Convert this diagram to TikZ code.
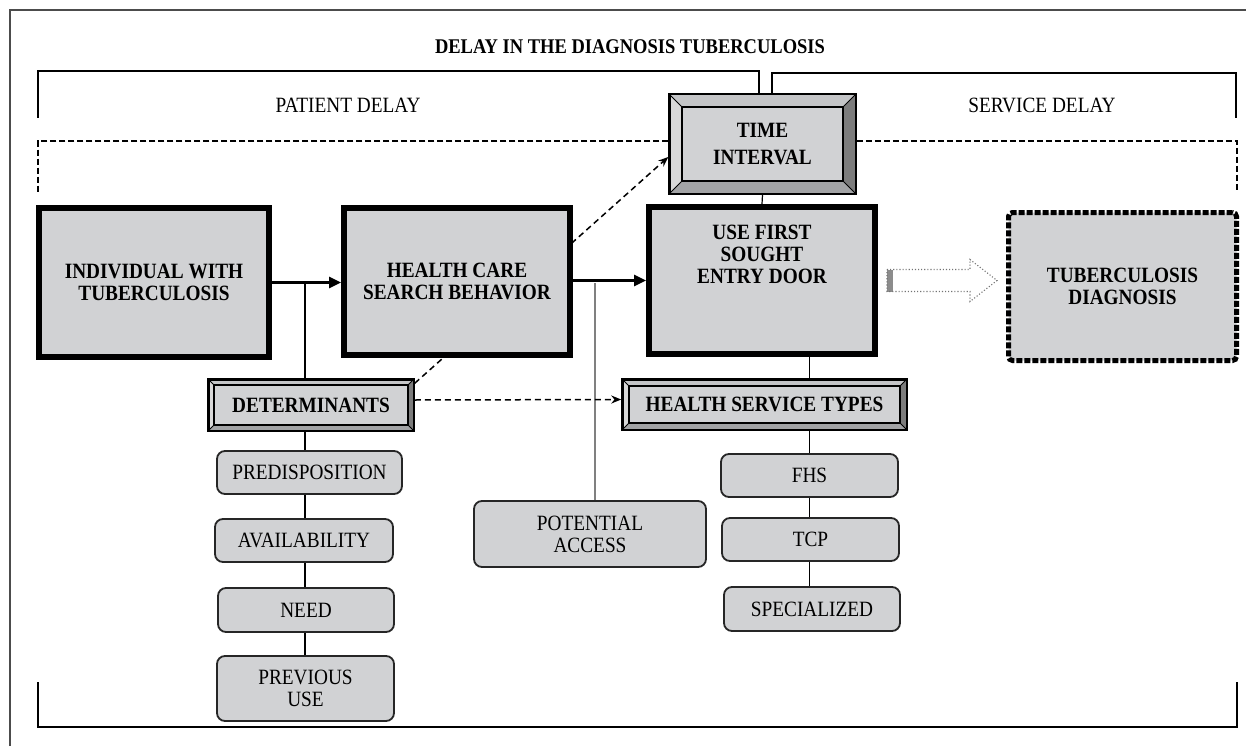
\documentclass[tikz,border=0pt]{standalone}
\usepackage{fontspec}
\setmainfont{Liberation Serif}[FakeStretch=0.885]
\usetikzlibrary{calc,arrows.meta}
\definecolor{bvmain}{HTML}{D1D2D4}
\definecolor{bvtop}{HTML}{C4C5C7}
\definecolor{bvleft}{HTML}{D8D8D8}
\definecolor{bvright}{HTML}{7C7C7C}
\definecolor{bvbot}{HTML}{A2A3A5}
\newcommand\bevelfill[1]{%
  \fill[bvtop] (path picture bounding box.north west) -- (path picture bounding box.north east) -- ([shift={(-#1,#1)}]path picture bounding box.north east) -- ([shift={(#1,#1)}]path picture bounding box.north west) -- cycle;
  \fill[bvright] (path picture bounding box.north east) -- (path picture bounding box.south east) -- ([shift={(-#1,-#1)}]path picture bounding box.south east) -- ([shift={(-#1,#1)}]path picture bounding box.north east) -- cycle;
  \fill[bvbot] (path picture bounding box.south east) -- (path picture bounding box.south west) -- ([shift={(#1,-#1)}]path picture bounding box.south west) -- ([shift={(-#1,-#1)}]path picture bounding box.south east) -- cycle;
  \fill[bvleft] (path picture bounding box.south west) -- (path picture bounding box.north west) -- ([shift={(#1,#1)}]path picture bounding box.north west) -- ([shift={(#1,-#1)}]path picture bounding box.south west) -- cycle;
  \draw[line width=0.9pt] (path picture bounding box.north west) -- ++(#1,#1);
  \draw[line width=0.9pt] (path picture bounding box.north east) -- ++(-#1,#1);
  \draw[line width=0.9pt] (path picture bounding box.south east) -- ++(-#1,-#1);
  \draw[line width=0.9pt] (path picture bounding box.south west) -- ++(#1,-#1);
  \filldraw[fill=bvmain,draw=black,line width=1.5pt] ([shift={(#1,#1)}]path picture bounding box.north west) rectangle ([shift={(-#1,-#1)}]path picture bounding box.south east);
  \draw[line width=3pt] (path picture bounding box.north west) rectangle (path picture bounding box.south east);
}
\tikzset{
  txt/.style={font=\fontsize{21.8}{22}\selectfont},
  btxt/.style={font=\bfseries\fontsize{21.8}{22}\selectfont},
  bevelbox/.style={draw, line width=1.5pt, fill=bvmain, inner sep=0pt, align=center, btxt, path picture={\bevelfill{#1}}},
  bigbox/.style={draw, line width=6pt, fill=bvmain, align=center, btxt, inner sep=0pt},
  smallbox/.style={draw=black!85, line width=1.8pt, fill=bvmain, rounded corners=8pt, align=center, txt, inner sep=0pt},
  thinln/.style={line width=1.2pt},
  thickarr/.style={line width=2.6pt, -{Triangle[length=12pt,width=11pt]}},
  dasharr/.style={line width=1.5pt, dash pattern=on 6pt off 4pt, -{Stealth[length=10pt,width=8pt]}},
  dashln/.style={line width=1.3pt, dash pattern=on 6pt off 3pt},
  bracket/.style={line width=1.5pt},
}
\begin{document}
\begin{tikzpicture}[x=1pt,y=-1pt]
\useasboundingbox (0,0) rectangle (1246,746);
% frame
\draw[line width=1.3pt, black!70] (10,746) -- (10,10) -- (1246,10);
\node[font=\bfseries\fontsize{20.9}{22}\selectfont] (title) at (630,47) {DELAY IN THE DIAGNOSIS TUBERCULOSIS};
\node[txt] (pd) at (348,105) {PATIENT DELAY};
\node[txt] (sd) at (1042,105) {SERVICE DELAY};

% time interval box
\node[bevelbox=13, minimum width=187pt, minimum height=100pt, font=\bfseries\fontsize{21.8}{27}\selectfont] (ti) at (762.5,144) {TIME\\INTERVAL};

% top bracket
\coordinate (bl1) at (38,118);
\coordinate (br1) at (1236,118);
\draw[bracket] (bl1) -- (38,71) -- (759,71) -- (759,0 |- ti.north);
\draw[bracket] (772,0 |- ti.north) -- (772,73) -- (1236,73) -- (br1);
% dashed bracket
\coordinate (dl) at (38,192);
\coordinate (dr) at (1237,192);
\draw[dashln] ([yshift=3pt]ti.west) -| (dl);
\draw[dashln] ([yshift=3pt]ti.east) -| (dr);
% bottom bracket
\coordinate (bb1) at (38,682);
\coordinate (bb2) at (1237,682);
\draw[bracket] (bb1) -- (38,727) -- (1237,727) -- (bb2);

% junction coordinates
\coordinate (jl) at (305,282.5);
\coordinate (jp) at (595,283);

% left column boxes
\node[bevelbox=6, minimum width=206pt, minimum height=52pt] (det) at (311,405) {DETERMINANTS};
\node[smallbox, minimum width=185pt, minimum height=43pt] (pre) at (309.5,472.5) {PREDISPOSITION};
\node[smallbox, minimum width=178pt, minimum height=43pt] (ava) at (304,540.5) {AVAILABILITY};
\node[smallbox, minimum width=176pt, minimum height=44pt] (need) at (306,610) {NEED};
\node[smallbox, minimum width=177pt, minimum height=65pt] (prev) at (305.5,688.5) {PREVIOUS\\USE};

% right column
\node[bevelbox=7, minimum width=285pt, minimum height=51pt] (hst) at (764.5,404.5) {HEALTH SERVICE TYPES};
\node[smallbox, minimum width=177pt, minimum height=43pt] (fhs) at (809.5,475.5) {FHS};
\node[smallbox, minimum width=177pt, minimum height=43pt] (tcp) at (810.5,539.5) {TCP};
\node[smallbox, minimum width=176pt, minimum height=44pt] (spec) at (812,609) {SPECIALIZED};
\node[smallbox, minimum width=232pt, minimum height=66pt] (pa) at (590,534) {POTENTIAL\\ACCESS};

% connector lines
\draw[thinln] (jl) -- (jl |- det.north);
\draw[thinln] (jl |- det.south) -- (jl |- pre.north);
\draw[thinln] (jl |- pre.south) -- (jl |- ava.north);
\draw[thinln] (jl |- ava.south) -- (jl |- need.north);
\draw[thinln] (jl |- need.south) -- (jl |- prev.north);
\draw[line width=1.4pt, black!50] (jp) -- (jp |- pa.north);

% dashed diagonal (behind HCSB box)
\draw[dasharr] ([yshift=-5pt]det.north east) -- ([yshift=-13pt]ti.west);
\draw[dasharr] ([yshift=5pt]det.east) -- ([yshift=5pt]hst.west);

% main boxes
\node[bigbox, minimum width=230pt, minimum height=149pt] (ind) at (154,282.5) {INDIVIDUAL WITH\\TUBERCULOSIS};
\node[bigbox, minimum width=226pt, minimum height=147pt] (hcsb) at (457,281.5) {HEALTH CARE\\SEARCH BEHAVIOR};
\node[bigbox, minimum width=226pt, minimum height=147pt] (use) at (762,280.5) {\begin{tabular}{@{}c@{}}USE FIRST\\SOUGHT\\ENTRY DOOR\\[47pt]\end{tabular}};
\node[draw, line width=5pt, dash pattern=on 6pt off 2pt, rounded corners=4pt, fill=bvmain, minimum width=228pt, minimum height=148pt, align=center, btxt] (td) at (1122.5,286.5) {TUBERCULOSIS\\DIAGNOSIS};

\draw[thinln] (ti.south) -- (use.north);
\draw[thinln] (fhs.north |- use.south) -- (fhs.north |- hst.north);
\draw[thinln] (fhs.north |- hst.south) -- (fhs.north);
\draw[thinln] (fhs.south) -- (fhs.south |- tcp.north);
\draw[thinln] (fhs.south |- tcp.south) -- (fhs.south |- spec.north);

% arrows
\draw[thickarr] (ind.east) -- (ind.east -| hcsb.west);
\draw[thickarr] (hcsb.east |- use.west) -- (use.west);

% hollow arrow
\coordinate (ha) at ([xshift=9pt]use.east);
\fill[black!45] (ha) ++(0,-11) rectangle ++(6,22);
\draw[black!55, line width=1.1pt, dotted] (ha) ++(0,-11) -- ++(83,0) -- ++(0,-10) -- ++(27,21) -- ++(-27,21) -- ++(0,-10) -- ++(-83,0) -- cycle;
\end{tikzpicture}
\end{document}
